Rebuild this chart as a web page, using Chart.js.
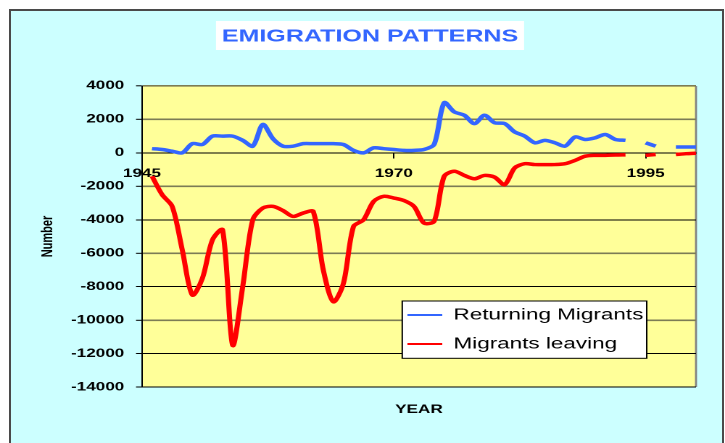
<!DOCTYPE html>
<html>
<head>
<meta charset="utf-8">
<script src="https://cdn.jsdelivr.net/npm/chart.js@4.4.1/dist/chart.umd.min.js"></script>
<style>
html,body{margin:0;padding:0;background:#ffffff;overflow:hidden;}
#wrap{position:relative;width:725px;height:443px;overflow:hidden;}
#frame{position:absolute;left:9px;top:9px;width:715px;height:450px;box-sizing:border-box;border:2px solid #4a4a4a;background:#CCFFFF;}
#c{position:absolute;left:0;top:0;width:725px !important;height:443px !important;}
</style>
</head>
<body>
<div id="wrap"><div id="frame"></div><canvas id="c" width="500" height="443"></canvas></div>
<script>
// ---- data ----
const chartTitle = 'EMIGRATION PATTERNS';
const xAxisTitle = 'YEAR';
const yAxisTitle = 'Number';
const seriesNames = ['Returning Migrants', 'Migrants leaving'];
const years = [1946,1947,1948,1949,1950,1951,1952,1953,1954,1955,
               1956,1957,1958,1959,1960,1961,1962,1963,1964,1965,
               1966,1967,1968,1969,1970,1971,1972,1973,1974,1975,
               1976,1977,1978,1979,1980,1981,1982,1983,1984,1985,
               1986,1987,1988,1989,1990,1991,1992,1993,1994,1995,
               1996,1997,1998,1999,2000];
const returning = [250,200,100,0,550,500,1000,1000,1000,750,
                   400,1700,850,400,400,550,550,550,550,500,
                   150,0,300,250,200,150,150,200,500,3000,
                   2450,2250,1750,2250,1800,1750,1250,1000,600,750,
                   600,400,950,800,900,1100,800,750,null,600,
                   400,null,350,350,350];
const leaving = [-1400,-2500,-3200,-5800,-8500,-7500,-5200,-4600,-11500,-8000,
                 -4000,-3300,-3200,-3450,-3800,-3600,-3500,-7000,-8900,-7800,
                 -4400,-4000,-2900,-2600,-2700,-2850,-3200,-4200,-4100,-1400,
                 -1100,-1350,-1550,-1350,-1450,-1900,-900,-650,-700,-700,
                 -700,-650,-450,-200,-150,-150,-130,-120,null,-150,
                 -100,null,-100,-50,-20];
const xTickYears = [1945, 1970, 1995];
const xRange = [1945, 2000];
const yRange = [-14000, 4000];
const yStep = 2000;
const darkGridValues = [0, -4000, -8000, -12000, -14000];

// ---- styling ----
const FONT = "'Liberation Sans', Arial, sans-serif";
const BLUE = '#3366FF';
const RED = '#FF0000';
const LEGEND_BOX = {x1: 277.4, y1: 301, x2: 446, y2: 358.3};

Chart.defaults.color = '#000';
Chart.defaults.font.family = FONT;

const decor = {
  id: 'decor',
  beforeLayout(chart) {
    const lg = chart.legend;
    if (lg && !lg._customLayer) {
      lg._customLayer = true;
      lg._layers = () => [{
        z: 1,
        draw: (ca) => {
          const ctx = chart.ctx;
          ctx.save();
          ctx.fillStyle = '#ffffff';
          ctx.strokeStyle = '#000000';
          ctx.lineWidth = 1;
          ctx.fillRect(LEGEND_BOX.x1, LEGEND_BOX.y1, LEGEND_BOX.x2 - LEGEND_BOX.x1, LEGEND_BOX.y2 - LEGEND_BOX.y1);
          ctx.strokeRect(LEGEND_BOX.x1, LEGEND_BOX.y1, LEGEND_BOX.x2 - LEGEND_BOX.x1, LEGEND_BOX.y2 - LEGEND_BOX.y1);
          ctx.restore();
          lg.draw(ca);
        }
      }];
    }
  },
  afterLayout(chart) {
    const lg = chart.legend, ca = chart.chartArea;
    lg.left = 267.5; lg.top = 293.75;
    lg.right = ca.right; lg.bottom = ca.bottom;
    lg.width = lg.right - lg.left; lg.height = lg.bottom - lg.top;
  },
  beforeDraw(chart) {
    const ctx = chart.ctx, ca = chart.chartArea;
    ctx.save();
    ctx.fillStyle = '#FFFF99';
    ctx.fillRect(ca.left, ca.top, ca.right - ca.left, ca.bottom - ca.top);
    ctx.strokeStyle = '#808080';
    ctx.lineWidth = 1.4;
    ctx.beginPath();
    ctx.moveTo(ca.right, ca.top);
    ctx.lineTo(ca.right, ca.bottom);
    ctx.stroke();
    // white box behind title
    const tb = chart.titleBlock;
    ctx.font = 'bold 17.3px ' + FONT;
    const w = ctx.measureText(chartTitle).width;
    const cx = (tb.left + tb.right) / 2;
    ctx.fillStyle = '#ffffff';
    ctx.fillRect(cx - w / 2 - 4, 21, w + 8, 29);
    ctx.restore();
  }
};

const mkData = (vals) => years.map((yr, i) => ({x: yr, y: vals[i]}));

new Chart(document.getElementById('c'), {
  type: 'line',
  data: {
    datasets: [
      {label: seriesNames[0], data: mkData(returning), borderColor: BLUE, backgroundColor: BLUE,
       borderWidth: 3.5, pointRadius: 0, tension: 0.3, spanGaps: false, borderJoinStyle: 'round'},
      {label: seriesNames[1], data: mkData(leaving), borderColor: RED, backgroundColor: RED,
       borderWidth: 3.5, pointRadius: 0, tension: 0.3, spanGaps: false, borderJoinStyle: 'round'}
    ]
  },
  options: {
    responsive: false,
    devicePixelRatio: 2,
    animation: false,
    layout: {padding: {left: 30.4, right: 20, top: 0, bottom: 26}},
    plugins: {
      tooltip: {enabled: false},
      title: {
        display: true, text: chartTitle, color: BLUE,
        font: {family: FONT, size: 17.3, weight: 'bold'},
        padding: {top: 26.3, bottom: 38.9}
      },
      legend: {
        display: true, position: 'chartArea', align: 'start',
        labels: {
          color: '#000', font: {family: FONT, size: 15.5},
          boxWidth: 24, boxHeight: 2, padding: 13.5,
          generateLabels: (chart) => Chart.defaults.plugins.legend.labels.generateLabels(chart)
            .map(l => Object.assign({}, l, {fillStyle: l.strokeStyle, lineWidth: 0}))
        }
      }
    },
    scales: {
      x: {
        type: 'linear', position: {y: 0}, min: xRange[0], max: xRange[1],
        afterBuildTicks: (s) => { s.ticks = xTickYears.map(v => ({value: v})); },
        afterFit: (s) => { s.height = 0; },
        ticks: {callback: (v) => String(v), color: '#000', padding: 9, maxRotation: 0, autoSkip: false,
                font: {family: FONT, size: 11.8, weight: 'bold'}},
        grid: {drawOnChartArea: false, drawTicks: true, tickLength: 5, tickColor: '#000', tickWidth: 1},
        border: {display: true, color: '#000', width: 1},
        title: {display: false}
      },
      xTitle: {
        axis: 'x', type: 'linear', position: 'bottom', min: 0, max: 1,
        afterFit: (s) => { s.height = 30; },
        ticks: {display: false},
        grid: {display: false},
        border: {display: false},
        title: {display: true, text: xAxisTitle, color: '#000', padding: 0,
                font: {family: FONT, size: 11.8, weight: 'bold'}}
      },
      y: {
        type: 'linear', position: 'left', min: yRange[0], max: yRange[1],
        afterFit: (s) => { s.width = 67.5; },
        ticks: {stepSize: yStep, callback: (v) => String(v), color: '#000', padding: 8.1,
                font: {family: FONT, size: 11.8, weight: 'bold'}},
        grid: {
          color: (c) => (c.tick && darkGridValues.includes(c.tick.value)) ? '#000000' : '#7c7c55',
          lineWidth: (c) => (c.tick && darkGridValues.includes(c.tick.value)) ? 1 : 1.6,
          drawTicks: true, tickLength: 4.1, tickColor: '#000', tickWidth: 1
        },
        border: {display: true, color: '#000', width: 1},
        title: {display: true, text: yAxisTitle, color: '#000', padding: {top: -3.9, bottom: 0},
                font: {family: FONT, size: 11, weight: 'bold'}}
      }
    }
  },
  plugins: [decor]
});
</script>
</body>
</html>
